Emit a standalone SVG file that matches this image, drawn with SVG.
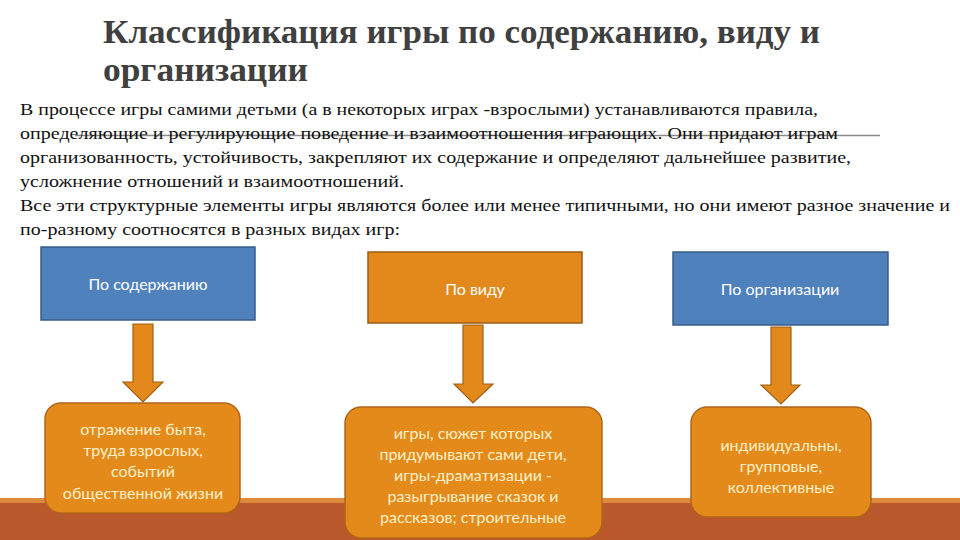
<svg xmlns="http://www.w3.org/2000/svg" width="960" height="540" viewBox="0 0 960 540">
<style>
.title{font-family:"Liberation Serif",serif;font-weight:bold;font-size:34px;fill:#404040}
.body{font-family:"Liberation Serif",serif;font-size:17px;fill:#111}
.blue{fill:#4f81bd;stroke:#385d8a;stroke-width:1.5}
.cat{fill:#e3891c;stroke:#9c5b14;stroke-width:1.5}
.res{fill:#e48a1a;stroke:#b0661a;stroke-width:1.5}
.arrow{fill:#e3891c;stroke:#a05f17;stroke-width:1.2}
.lbl{font-family:Lato,"Noto Sans",sans-serif;font-size:16px;fill:#ffffff;text-anchor:middle}
.rt{font-family:Lato,"Noto Sans",sans-serif;font-size:16px;fill:#fdf0c8;text-anchor:middle}
</style>
<rect x="0" y="0" width="960" height="540" fill="#ffffff"/>
<rect x="0" y="498" width="960" height="5" fill="#dd8a3c"/>
<rect x="0" y="503" width="960" height="37" fill="#b9582b"/>
<line x1="75" y1="135.5" x2="880" y2="135.5" stroke="#8a8a8a" stroke-width="1.5"/>
<text class="title" x="103" y="43" textLength="717" lengthAdjust="spacingAndGlyphs">Классификация игры по содержанию, виду и</text>
<text class="title" x="103" y="81" textLength="205" lengthAdjust="spacingAndGlyphs">организации</text>
<text class="body" x="20" y="115" textLength="798" lengthAdjust="spacingAndGlyphs">В процессе игры самими детьми (а в некоторых играх -взрослыми) устанавливаются правила,</text>
<text class="body" x="20" y="139" textLength="818" lengthAdjust="spacingAndGlyphs">определяющие и регулирующие поведение и взаимоотношения играющих. Они придают играм</text>
<text class="body" x="20" y="163" textLength="831" lengthAdjust="spacingAndGlyphs">организованность, устойчивость, закрепляют их содержание и определяют дальнейшее развитие,</text>
<text class="body" x="20" y="187" textLength="384" lengthAdjust="spacingAndGlyphs">усложнение отношений и взаимоотношений.</text>
<text class="body" x="20" y="211" textLength="930" lengthAdjust="spacingAndGlyphs">Все эти структурные элементы игры являются более или менее типичными, но они имеют разное значение и</text>
<text class="body" x="20" y="235" textLength="380" lengthAdjust="spacingAndGlyphs">по-разному соотносятся в разных видах игр:</text>
<g id="connectors">
<path class="arrow" d="M133,324 H153 V382 H163 L143,402 L123,382 H133 Z"/>
<path class="arrow" d="M463,325 H483 V384 H493 L473,403 L454,384 H463 Z"/>
<path class="arrow" d="M771,327 H791 V385 H800 L781,404 L761,385 H771 Z"/>
</g>
<g id="n-content">
<rect class="blue" x="41" y="247" width="214" height="73"/>
<text class="lbl" x="148" y="290">По содержанию</text>
</g>
<g id="n-kind">
<rect class="cat" x="368" y="252" width="214" height="71"/>
<text class="lbl" x="475" y="295">По виду</text>
</g>
<g id="n-org">
<rect class="blue" x="673" y="252" width="215" height="73"/>
<text class="lbl" x="780" y="295">По организации</text>
</g>
<g id="r-content">
<rect class="res" x="45" y="403" width="195" height="110" rx="16"/>
<text class="rt" x="143" y="435">отражение быта,</text>
<text class="rt" x="143" y="456">труда взрослых,</text>
<text class="rt" x="143" y="477">событий</text>
<text class="rt" x="143" y="499">общественной жизни</text>
</g>
<g id="r-kind">
<rect class="res" x="345" y="407" width="257" height="131" rx="16"/>
<text class="rt" x="473" y="439">игры, сюжет которых</text>
<text class="rt" x="473" y="460">придумывают сами дети,</text>
<text class="rt" x="473" y="481">игры-драматизации -</text>
<text class="rt" x="473" y="502">разыгрывание сказок и</text>
<text class="rt" x="473" y="523">рассказов; строительные</text>
</g>
<g id="r-org">
<rect class="res" x="691" y="407" width="180" height="110" rx="16"/>
<text class="rt" x="781" y="451">индивидуальны,</text>
<text class="rt" x="781" y="472">групповые,</text>
<text class="rt" x="781" y="493">коллективные</text>
</g>
</svg>
